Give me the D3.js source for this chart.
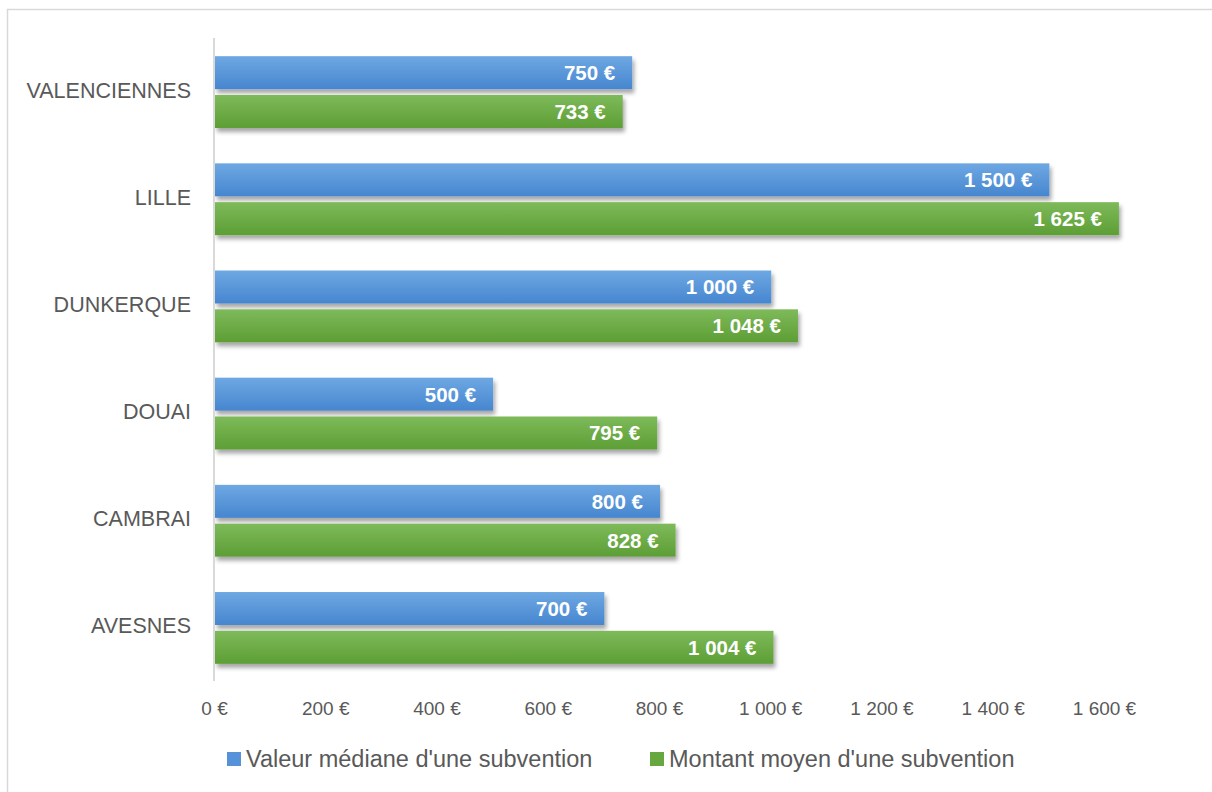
<!DOCTYPE html>
<html><head><meta charset="utf-8">
<script src="https://cdn.jsdelivr.net/npm/d3@7"></script>
<style>
html,body{margin:0;padding:0;background:#fff;}
svg{display:block;font-family:"Liberation Sans",Arial,sans-serif;}
</style></head>
<body>
<svg id="chart" width="1212" height="792"></svg>
<script>
const categories = ["VALENCIENNES","LILLE","DUNKERQUE","DOUAI","CAMBRAI","AVESNES"];
const seriesNames = ["Valeur médiane d'une subvention","Montant moyen d'une subvention"];
const medianValues = [750,1500,1000,500,800,700];
const meanValues = [733,1625,1048,795,828,1004];
const tickValues = [0,200,400,600,800,1000,1200,1400,1600];

const svg = d3.select("#chart");
const defs = svg.append("defs");
const grads = [["gBlue","#6ea8e3","#4686cf"],["gGreen","#7eba5a","#5d9e35"]];
grads.forEach(([id,c1,c2])=>{
  const g = defs.append("linearGradient").attr("id",id).attr("x1",0).attr("y1",0).attr("x2",0).attr("y2",1);
  g.append("stop").attr("offset","0%").attr("stop-color",c1);
  g.append("stop").attr("offset","100%").attr("stop-color",c2);
});
const f = defs.append("filter").attr("id","shadow").attr("x","-5%").attr("y","-30%").attr("width","115%").attr("height","170%");
f.append("feDropShadow").attr("dx",2).attr("dy",4).attr("stdDeviation",2.2).attr("flood-color","#000").attr("flood-opacity",0.35);

// frame
svg.append("rect").attr("x",7.5).attr("y",9.5).attr("width",1230).attr("height",800)
  .attr("fill","none").attr("stroke","#d9d9d9").attr("stroke-width",1.5);

const x = d3.scaleLinear().domain([0,1600]).range([215,1105]);
const y = d3.scaleBand().domain(categories).range([38.5,681.5]).paddingInner(0.33).paddingOuter(0.165);
const ys = d3.scaleBand().domain(seriesNames).range([0,y.bandwidth()]).paddingInner(0.15);
const fills = ["url(#gBlue)","url(#gGreen)"];
const squareColors = ["#5592d9","#66a73f"];
const fmt = v => d3.format(",")(v).replace(/,/g," ") + " €";

const rows = categories.map((c,i)=>({cat:c, vals:[medianValues[i],meanValues[i]]}));

// bars
const gBars = svg.append("g");
rows.forEach(r=>{
  r.vals.forEach((v,si)=>{
    gBars.append("rect")
      .attr("x",x(0)).attr("y",y(r.cat)+ys(seriesNames[si]))
      .attr("width",x(v)-x(0)).attr("height",ys.bandwidth())
      .attr("fill",fills[si]).attr("filter","url(#shadow)");
  });
});
// data labels
rows.forEach(r=>{
  r.vals.forEach((v,si)=>{
    svg.append("text")
      .attr("x",x(v)-17).attr("y",y(r.cat)+ys(seriesNames[si])+ys.bandwidth()/2)
      .attr("dy","0.36em").attr("text-anchor","end")
      .attr("fill","#fff").attr("font-weight","bold").attr("font-size","20.5px")
      .text(fmt(v));
  });
});

// vertical axis line
svg.append("line").attr("x1",x(0)-1).attr("x2",x(0)-1).attr("y1",38).attr("y2",681)
  .attr("stroke","#d9d9d9").attr("stroke-width",2);

// category labels
const yAxis = d3.axisLeft(y).tickSize(0).tickPadding(0);
const ga = svg.append("g").attr("transform",`translate(191,-2)`).call(yAxis);
ga.select(".domain").remove();
ga.selectAll("text").attr("font-size","21.5px").attr("fill","#595959")
  .attr("font-family","'Liberation Sans',Arial,sans-serif").attr("dy","0.35em");

// x tick labels
const xAxis = d3.axisBottom(x).tickValues(tickValues).tickSize(0).tickPadding(0).tickFormat(fmt);
const gx = svg.append("g").attr("transform","translate(-1,708)").call(xAxis);
gx.select(".domain").remove();
gx.selectAll("text").attr("font-size","19px").attr("fill","#595959")
  .attr("font-family","'Liberation Sans',Arial,sans-serif").attr("dy","0.35em");

// legend
const legX = [227,650];
seriesNames.forEach((s,i)=>{
  svg.append("rect").attr("x",legX[i]).attr("y",752).attr("width",14).attr("height",14).attr("fill",squareColors[i]);
  svg.append("text").attr("x",legX[i]+19).attr("y",759).attr("dy","0.36em")
    .attr("font-size","23.5px").attr("fill","#595959").text(s);
});
</script>
</body></html>
